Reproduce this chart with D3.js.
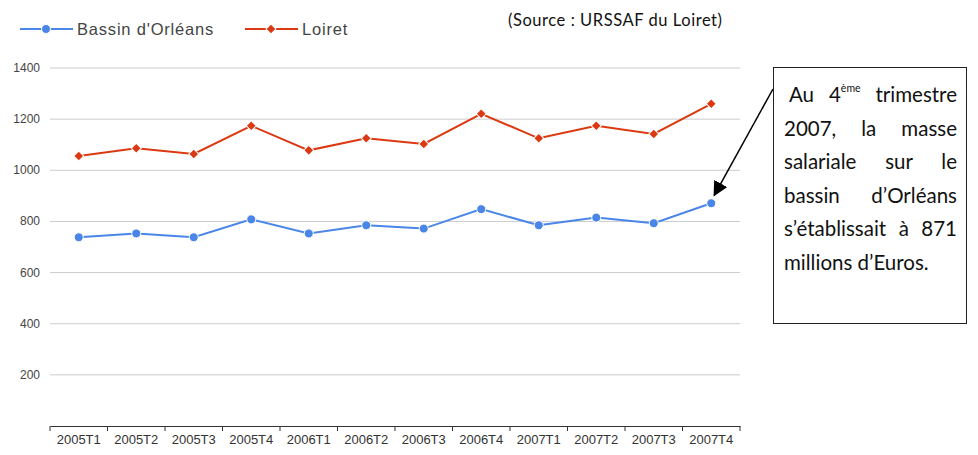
<!DOCTYPE html>
<html>
<head>
<meta charset="utf-8">
<script src="https://cdn.jsdelivr.net/npm/d3@7"></script>
<style>
  body { margin: 0; background: #fff; }
  #chart { position: relative; width: 978px; height: 455px; }
  #note {
    position: absolute; left: 773px; top: 67px; width: 194px; height: 257px;
    box-sizing: border-box; border: 1px solid #222; padding: 10px 9px 0 10px;
    font-family: Lato, "Open Sans", sans-serif; font-size: 20.5px; line-height: 33.5px;
    color: #111;
  }
  #note .ln { text-align: justify; text-align-last: justify; white-space: nowrap; height: 33.5px; }
  #note .ln.first { padding-left: 5px; }
  #note .ln.last { text-align-last: left; }
  #note sup { font-size: 10.5px; line-height: 0; vertical-align: 10px; }
</style>
</head>
<body>
<div id="chart"></div>
<script>
// data
var quarters = ["2005T1","2005T2","2005T3","2005T4","2006T1","2006T2","2006T3","2006T4","2007T1","2007T2","2007T3","2007T4"];
var bassin = [738, 753, 738, 808, 753, 785, 772, 848, 785, 815, 793, 871];
var loiret = [1056, 1086, 1064, 1174, 1078, 1125, 1103, 1221, 1125, 1174, 1142, 1260];
var yTicks = [200, 400, 600, 800, 1000, 1200, 1400];
var noteLines = ["Au 4<sup>ème</sup> trimestre", "2007, la masse", "salariale sur le", "bassin d’Orléans", "s’établissait à 871", "millions d’Euros."];

var margin = {top: 68, right: 238, bottom: 29, left: 50},
    width = 978 - margin.left - margin.right,
    height = 455 - margin.top - margin.bottom;

document.addEventListener('DOMContentLoaded', function () {

var svg = d3.select("#chart")
  .append("svg")
    .attr("width", 978)
    .attr("height", 455)
    .style("position", "absolute").style("left", 0).style("top", 0);

var g = svg.append("g")
    .attr("transform", `translate(${margin.left}, ${margin.top})`);

var xScale = d3.scaleBand().domain(quarters).range([0, width]);
var yScale = d3.scaleLinear().domain([0, 1400]).range([height, 0]);

// gridlines
g.selectAll(".grid")
  .data(yTicks)
  .enter().append("line")
    .attr("x1", 0).attr("x2", width)
    .attr("y1", d => yScale(d)).attr("y2", d => yScale(d))
    .attr("stroke", "#cccccc").attr("stroke-width", 1);

// y labels
g.selectAll(".ylab")
  .data(yTicks)
  .enter().append("text")
    .attr("x", -10).attr("y", d => yScale(d) + 4)
    .attr("text-anchor", "end")
    .style("font-family", "Arial, 'Liberation Sans', sans-serif")
    .style("font-size", "12px").style("fill", "#444")
    .text(d => d);

// x axis
var xAxis = d3.axisBottom(xScale).tickSize(0).tickPadding(9);
var ax = g.append("g")
    .attr("transform", `translate(0,${height})`)
    .call(xAxis);
ax.select(".domain").attr("stroke", "#333");
ax.selectAll("text")
    .style("font-family", "Arial, 'Liberation Sans', sans-serif")
    .style("font-size", "13px").style("fill", "#333");
var bounds = quarters.map(q => xScale(q)).concat([width]);
ax.selectAll(".bt")
  .data(bounds)
  .enter().append("line")
    .attr("x1", d => d).attr("x2", d => d)
    .attr("y1", 0).attr("y2", 5)
    .attr("stroke", "#333");

var cx = (d, i) => xScale(quarters[i]) + xScale.bandwidth() / 2;
var line = d3.line().x(cx).y(d => yScale(d));

// diamond = square turned 45deg
var series = [
  {name: "Bassin d'Orléans", values: bassin, color: "#4a86e8", shape: d3.symbolCircle, size: 64, rot: 0},
  {name: "Loiret", values: loiret, color: "#dc3912", shape: d3.symbolSquare, size: 50, rot: 45}
];

series.forEach(function(s) {
  g.append("path")
    .datum(s.values)
    .attr("fill", "none")
    .attr("stroke", s.color)
    .attr("stroke-width", 2)
    .attr("d", line);

  g.selectAll(null)
    .data(s.values)
    .enter().append("path")
      .attr("d", d3.symbol().type(s.shape).size(s.size))
      .attr("transform", (d, i) => `translate(${cx(d, i)},${yScale(d)}) rotate(${s.rot})`)
      .attr("fill", s.color)
      .attr("stroke", "#fff").attr("stroke-width", 1);
});

// legend
var legX = [20, 245];
series.forEach(function(s, i) {
  var lg = svg.append("g").attr("transform", `translate(${legX[i]},29)`);
  lg.append("line").attr("x1", 0).attr("x2", 53)
    .attr("stroke", s.color).attr("stroke-width", 2);
  lg.append("path")
    .attr("d", d3.symbol().type(s.shape).size(s.size))
    .attr("transform", `translate(26,0) rotate(${s.rot})`)
    .attr("fill", s.color).attr("stroke", "#fff").attr("stroke-width", 1);
  lg.append("text")
    .attr("x", 57).attr("y", 6)
    .style("font-family", "Arial, 'Liberation Sans', sans-serif")
    .style("font-size", "16.5px").style("fill", "#444")
    .style("letter-spacing", "0.8px")
    .text(s.name);
});

// source
svg.append("text")
  .attr("x", 508).attr("y", 26)
  .attr("textLength", 214)
  .style("font-family", "Lato, 'Open Sans', sans-serif")
  .style("font-size", "16.5px").style("fill", "#111")
  .text("(Source : URSSAF du Loiret)");

// arrow to the last blue point
svg.append("defs").append("marker")
    .attr("id", "arr").attr("viewBox", "0 0 10 10")
    .attr("refX", 9).attr("refY", 5)
    .attr("markerWidth", 10).attr("markerHeight", 10)
    .attr("orient", "auto")
  .append("path").attr("d", "M0,0L10,5L0,10z").attr("fill", "#000");

var last = bassin.length - 1;
svg.append("line")
  .attr("x1", 773).attr("y1", 89)
  .attr("x2", margin.left + cx(bassin[last], last) + 3)
  .attr("y2", margin.top + yScale(bassin[last]) - 8)
  .attr("stroke", "#000").attr("stroke-width", 1.5)
  .attr("marker-end", "url(#arr)");

// note box
d3.select("#chart").append("div")
  .attr("id", "note")
  .selectAll(".ln")
  .data(noteLines)
  .enter().append("div")
    .attr("class", (d, i) => i === 0 ? "ln first" : (i === noteLines.length - 1 ? "ln last" : "ln"))
    .html(d => d);

});
</script>
</body>
</html>
